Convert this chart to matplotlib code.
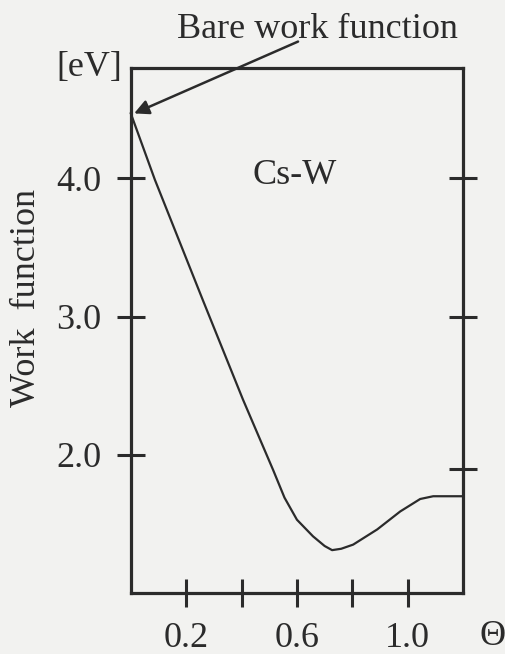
import matplotlib.pyplot as plt

# values
coverage = [0.0, 0.087, 0.26, 0.405, 0.514, 0.555, 0.60, 0.658, 0.70, 0.727, 0.76,
            0.803, 0.89, 0.973, 1.045, 1.092, 1.2]
work_fn = [4.47, 3.99, 3.12, 2.40, 1.89, 1.69, 1.53, 1.41, 1.34, 1.31, 1.32,
           1.35, 1.46, 1.59, 1.68, 1.70, 1.70]
x_ticks = [0.2, 0.4, 0.6, 0.8, 1.0]
x_labels = ["0.2", "", "0.6", "", "1.0"]
y_ticks = [2.0, 3.0, 4.0]
y_labels = ["2.0", "3.0", "4.0"]
right_ticks = [1.9, 3.0, 4.0]

ink = "#2b2b2b"
paper = "#f2f2f0"
plt.rcParams["font.family"] = ["Liberation Serif", "DejaVu Serif"]
plt.rcParams["font.size"] = 26

fig = plt.figure(figsize=(5.05, 6.54), dpi=100, facecolor=paper)
ax = fig.add_axes([0.259, 0.0933, 0.658, 0.803])
ax.set_facecolor(paper)

ax.plot(coverage, work_fn, color=ink, lw=1.6, clip_on=False)

ax.set_xlim(0, 1.2)
ax.set_ylim(1.0, 4.8)
ax.set_xticks(x_ticks)
ax.set_xticklabels(x_labels)
ax.set_yticks(y_ticks)
ax.set_yticklabels(y_labels)
ax.tick_params(direction="inout", length=20, width=2.2, color=ink, labelcolor=ink, pad=11)

for s in ax.spines.values():
    s.set_linewidth(2.3)
    s.set_color(ink)

# right-hand ticks, as drawn in the original
ax2 = ax.twinx()
ax2.set_ylim(ax.get_ylim())
ax2.set_yticks(right_ticks)
ax2.set_yticklabels([])
ax2.tick_params(direction="inout", length=20, width=2.2, color=ink)
for s in ax2.spines.values():
    s.set_visible(False)

ax.text(-0.03, 4.8, "[eV]", ha="right", va="center", color=ink)
ax.text(0.593, 4.02, "Cs-W", ha="center", va="center", color=ink)
fig.text(0.053, 0.545, "Work  function", rotation=90, ha="center", va="center", color=ink)
fig.text(0.976, 0.026, "Θ", ha="center", va="center", color=ink)

# label and arrow to the bare-surface value
ax.text(0.675, 5.08, "Bare work function", ha="center", va="center", color=ink, clip_on=False)
ax.annotate("", xy=(0.012, 4.47), xytext=(0.604, 4.99), annotation_clip=False,
            arrowprops=dict(arrowstyle="-|>", color=ink, lw=1.8, mutation_scale=22,
                            shrinkA=0, shrinkB=0))

fig.savefig("out.png", dpi=100, facecolor=paper)
